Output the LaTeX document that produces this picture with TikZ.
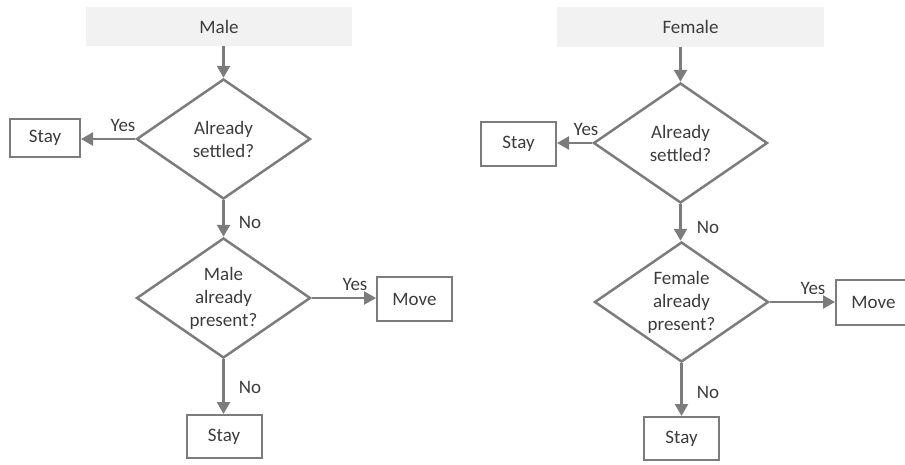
\documentclass[tikz,border=0pt]{standalone}
\usepackage{fontspec}
\setmainfont{Carlito}
\usetikzlibrary{shapes.geometric,arrows.meta}
\definecolor{ln}{HTML}{7C7C7C}
\definecolor{tx}{HTML}{3C3C3C}
\definecolor{hd}{HTML}{F2F2F2}
\begin{document}
\begin{tikzpicture}[x=1pt,y=-1pt,
  every node/.style={font=\fontsize{19}{23}\selectfont, text=tx},
  hdbox/.style={fill=hd, draw=none, minimum width=266pt, minimum height=39pt, inner sep=0pt},
  resbox/.style={draw=ln, line width=2pt, minimum width=75pt, minimum height=42pt, inner sep=0pt},
  decide/.style={diamond, draw=ln, line width=2.5pt, aspect=1.44, minimum width=174pt, minimum height=120pt, inner sep=0pt, align=center},
  flow/.style={draw=ln, line width=2.4pt, -{Triangle[length=12pt,width=13pt]}},
  lbl/.style={inner sep=0pt}
]
\useasboundingbox (0,0) rectangle (905,464);
\clip (0,0) rectangle (905,464);
% ---------- Male ----------
\node[hdbox] (mh) at (219,26.5) {Male};
\node[decide] (md1) at (223.5,139) {Already\\settled?};
\node[resbox, minimum width=70pt, minimum height=38pt] (ms1) at (45,138) {Stay};
\node[decide] (md2) at (223.5,298) {Male\\already\\present?};
\node[resbox, minimum height=44pt] (mm) at (414.5,299) {Move};
\node[resbox, minimum height=43pt] (ms2) at (224,436.5) {Stay};
\draw[flow] (md1.north |- mh.south) -- (md1.north);
\draw[flow] (md1.west) -- (md1.west -| ms1.east);
\draw[flow] (md1.south) -- (md2.north);
\draw[flow] (md2.east) -- (md2.east -| mm.west);
\draw[flow] (md2.south) -- (md2.south |- ms2.north);
\node[lbl] (my1) at (123,125) {Yes};
\node[lbl] (mn1) at (250,222) {No};
\node[lbl] (my2) at (355,284) {Yes};
\node[lbl] (mn2) at (250,387) {No};
% ---------- Female ----------
\node[hdbox, minimum width=267pt, minimum height=40pt] (fh) at (690.5,27) {Female};
\node[decide] (fd1) at (680.5,143) {Already\\settled?};
\node[resbox, minimum height=44pt] (fs1) at (518.5,144) {Stay};
\node[decide] (fd2) at (681.5,302) {Female\\already\\present?};
\node[resbox, minimum height=45pt] (fm) at (873.5,302.5) {Move};
\node[resbox, minimum height=43pt] (fs2) at (681.5,438.5) {Stay};
\draw[flow] (fd1.north |- fh.south) -- (fd1.north);
\draw[flow] (fd1.west) -- (fd1.west -| fs1.east);
\draw[flow] (fd1.south) -- (fd1.south |- fd2.north);
\draw[flow] (fd2.east) -- (fd2.east -| fm.west);
\draw[flow] (fd2.south) -- (fd2.south |- fs2.north);
\node[lbl] (fy1) at (586,129) {Yes};
\node[lbl] (fn1) at (708,227) {No};
\node[lbl] (fy2) at (813,288) {Yes};
\node[lbl] (fn2) at (708,392) {No};
\end{tikzpicture}
\end{document}
